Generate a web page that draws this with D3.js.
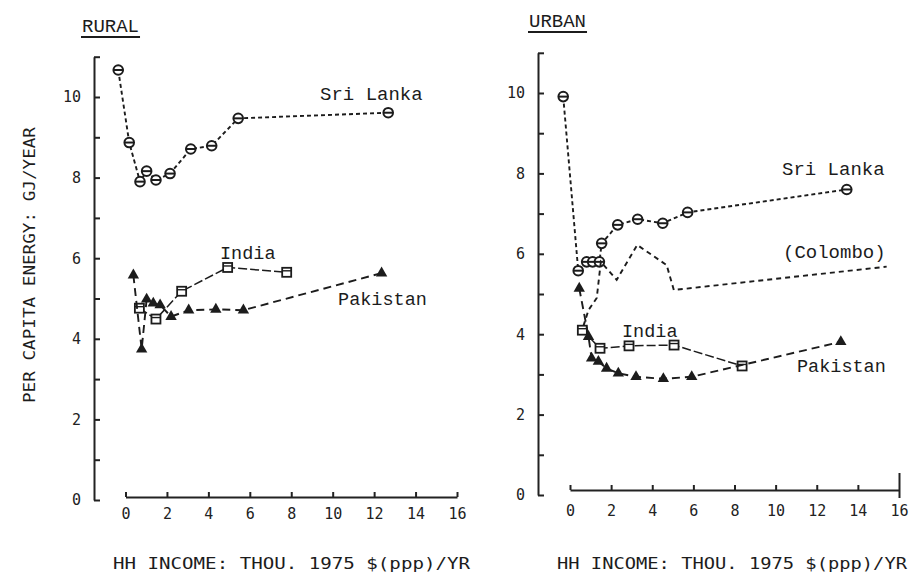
<!DOCTYPE html>
<html>
<head>
<meta charset="utf-8">
<title>Per capita energy vs household income</title>
<script src="https://cdn.jsdelivr.net/npm/d3@7"></script>
<style>
	body { margin: 0; background: #fff; }
	svg { display: block; }
	.tick text { font-family: "DejaVu Sans Mono", monospace; font-size: 15px; fill: #222; }
	.axis path, .axis line { stroke: #222; stroke-width: 2; }
</style>
</head>
<body>
<div id="vis"></div>
<script type="text/javascript">
// values (x: thou. 1975 $(ppp)/yr, y: GJ/year)
var ruralSriLankaX = [-0.35, 0.18, 0.7, 1.02, 1.47, 2.15, 3.15, 4.16, 5.44, 12.68];
var ruralSriLankaY = [10.67, 8.87, 7.9, 8.16, 7.94, 8.1, 8.71, 8.79, 9.47, 9.61];
var ruralIndiaX = [0.67, 1.47, 2.71, 4.93, 7.78];
var ruralIndiaY = [4.76, 4.49, 5.18, 5.77, 5.65];
var ruralPakistanX = [0.38, 0.78, 1.02, 1.34, 1.67, 2.2, 3.05, 4.36, 5.69, 12.36];
var ruralPakistanY = [5.58, 3.74, 4.98, 4.88, 4.84, 4.55, 4.71, 4.73, 4.71, 5.63];

var urbanSriLankaX = [-0.33, 0.4, 0.81, 1.1, 1.43, 1.54, 2.32, 3.29, 4.51, 5.72, 13.46];
var urbanSriLankaY = [9.91, 5.58, 5.8, 5.8, 5.8, 6.26, 6.72, 6.86, 6.76, 7.03, 7.6];
var urbanColomboX = [0.65, 0.9, 1.3, 1.5, 2.27, 3.27, 4.7, 5.05, 15.4];
var urbanColomboY = [4.2, 4.6, 4.9, 5.8, 5.35, 6.22, 5.72, 5.1, 5.68];
var urbanIndiaX = [0.6, 1.46, 2.87, 5.06, 8.37];
var urbanIndiaY = [4.1, 3.65, 3.71, 3.73, 3.21];
var urbanPakistanX = [0.45, 0.9, 1.05, 1.38, 1.78, 2.35, 3.21, 4.54, 5.92, 13.17];
var urbanPakistanY = [5.14, 3.94, 3.4, 3.32, 3.15, 3.03, 2.94, 2.89, 2.94, 3.81];

var xTicks = [0, 2, 4, 6, 8, 10, 12, 14, 16];
var yTicks = [0, 1, 2, 3, 4, 5, 6, 7, 8, 9, 10, 11];
var panelTitles = ['RURAL', 'URBAN'];
var xTitle = 'HH INCOME: THOU. 1975 $(ppp)/YR';
var yTitle = 'PER CAPITA ENERGY: GJ/YEAR';

const INK = '#1c1c1c';
var W = 921, H = 575;
var svg = d3.select('#vis').append('svg').attr('width', W).attr('height', H);
svg.append('rect').attr('width', W).attr('height', H).attr('fill', '#fff');

function zip(xs, ys) {
	return xs.map(function(v, i) { return [v, ys[i]]; });
}

function drawPanel(p) {
	var g = svg.append('g');
	var x = d3.scaleLinear().domain([0, 16]).range(p.xRange);
	var y = d3.scaleLinear().domain([0, 11]).range(p.yRange);

	// y axis, ticks pointing in, labels on even values only
	g.append('g').attr('class', 'axis')
		.attr('transform', 'translate(' + p.yAxisX + ',0)')
		.call(d3.axisLeft(y).tickValues(yTicks).tickSizeInner(-6).tickSizeOuter(0)
			.tickPadding(p.yPad)
			.tickFormat(function(d) { return (d % 2 === 0 && d <= 10) ? d : ''; }));

	var xa = g.append('g').attr('class', 'axis')
		.attr('transform', 'translate(0,' + p.xAxisY + ')')
		.call(d3.axisBottom(x).tickValues(xTicks).tickSizeInner(-5).tickSizeOuter(0).tickPadding(p.xPad));
	if (p.longEnd) {
		xa.selectAll('.tick').filter(function(d) { return d === 16; })
			.select('line').attr('y1', 8).attr('y2', -17);
	}

	// title, underlined
	var t = g.append('text').attr('x', p.titleX).attr('y', p.titleY)
		.attr('font-family', '"Liberation Mono", monospace').attr('font-size', 19)
		.attr('fill', INK).text(p.title);
	var tw = t.node().getComputedTextLength();
	g.append('line').attr('x1', p.titleX - 1).attr('x2', p.titleX + tw + 1)
		.attr('y1', p.titleY + 5).attr('y2', p.titleY + 5)
		.attr('stroke', INK).attr('stroke-width', 1.8);

	g.append('text').attr('x', p.xTitleX).attr('y', 569)
		.attr('font-family', '"DejaVu Sans Mono", monospace').attr('font-size', 15)
		.attr('textLength', p.xTitleLen).attr('lengthAdjust', 'spacingAndGlyphs')
		.attr('fill', INK).text(xTitle);

	var line = d3.line().x(function(d) { return x(d[0]); }).y(function(d) { return y(d[1]); });

	p.series.forEach(function(s) {
		var pts = zip(s.xs, s.ys);
		g.append('path').datum(pts).attr('d', line)
			.attr('fill', 'none').attr('stroke', INK)
			.attr('stroke-width', s.width).attr('stroke-dasharray', s.dash);
		var m = g.selectAll(null).data(s.marker ? pts : []).enter().append('g')
			.attr('transform', function(d) { return 'translate(' + x(d[0]) + ',' + y(d[1]) + ')'; });
		if (s.marker === 'circle') {
			m.append('circle').attr('r', 4.8).attr('fill', '#fff').attr('stroke', INK).attr('stroke-width', 2);
			m.append('line').attr('x1', -4.5).attr('x2', 4.5).attr('stroke', INK).attr('stroke-width', 2);
		} else if (s.marker === 'square') {
			m.append('rect').attr('x', -4.5).attr('y', -4.5).attr('width', 9).attr('height', 9)
				.attr('fill', '#fff').attr('stroke', INK).attr('stroke-width', 1.8);
			m.append('line').attr('x1', -4.5).attr('x2', 4.5).attr('y1', -1.5).attr('y2', -1.5)
				.attr('stroke', INK).attr('stroke-width', 1.4);
		} else if (s.marker === 'triangle') {
			m.append('path').attr('d', d3.symbol(d3.symbolTriangle, 56)).attr('fill', INK);
		}
		if (s.label) {
			g.append('text').attr('x', x(s.lx)).attr('y', y(s.ly))
				.attr('font-family', '"Liberation Mono", monospace').attr('font-size', s.fs || 18.5)
				.attr('fill', INK).text(s.label);
		}
	});
}

drawPanel({
	title: panelTitles[0], titleX: 82, titleY: 32,
	xRange: [125.5, 457], yRange: [500, 56.7], yAxisX: 94, xAxisY: 497,
	yPad: 13, xPad: 11, xTitleX: 113, xTitleLen: 357,
	series: [
		{ xs: ruralSriLankaX, ys: ruralSriLankaY, marker: 'circle', dash: '4,3', width: 1.9, label: 'Sri Lanka', lx: 9.39, ly: 9.93, fs: 19 },
		{ xs: ruralIndiaX, ys: ruralIndiaY, marker: 'square', dash: '9,3', width: 1.5, label: 'India', lx: 4.56, ly: 5.98 },
		{ xs: ruralPakistanX, ys: ruralPakistanY, marker: 'triangle', dash: '8,5', width: 1.9, label: 'Pakistan', lx: 10.26, ly: 4.84 }
	]
});

drawPanel({
	title: panelTitles[1], titleX: 529, titleY: 27,
	xRange: [570, 899], yRange: [495, 52.8], yAxisX: 538, xAxisY: 490,
	yPad: 13, xPad: 15, longEnd: true, xTitleX: 557, xTitleLen: 350,
	series: [
		{ xs: urbanSriLankaX, ys: urbanSriLankaY, marker: 'circle', dash: '4,3', width: 1.9, label: 'Sri Lanka', lx: 10.31, ly: 7.96, fs: 19 },
		{ xs: urbanColomboX, ys: urbanColomboY, marker: null, dash: '5,4', width: 1.9, label: '(Colombo)', lx: 10.36, ly: 5.9, fs: 19 },
		{ xs: urbanIndiaX, ys: urbanIndiaY, marker: 'square', dash: '9,3', width: 1.5, label: 'India', lx: 2.53, ly: 3.93 },
		{ xs: urbanPakistanX, ys: urbanPakistanY, marker: 'triangle', dash: '8,5', width: 1.9, label: 'Pakistan', lx: 11.04, ly: 3.06 }
	]
});

// shared y title
svg.append('text').attr('transform', 'translate(35,265) rotate(-90)')
	.attr('text-anchor', 'middle')
	.attr('font-family', '"DejaVu Sans Mono", monospace').attr('font-size', 15)
	.attr('textLength', 276).attr('lengthAdjust', 'spacingAndGlyphs')
	.attr('fill', INK).text(yTitle);
</script>
</body>
</html>
